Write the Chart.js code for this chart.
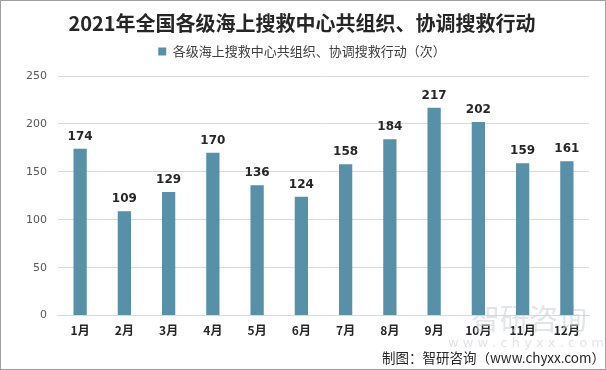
<!DOCTYPE html>
<html><head><meta charset="utf-8">
<script src="https://cdn.jsdelivr.net/npm/chart.js@4/dist/chart.umd.min.js"></script>
<style>
html,body{margin:0;padding:0;background:#fff;}
#wrap{position:absolute;left:0;top:0;width:604px;height:368px;border:1px solid #a0a0a0;}
</style></head>
<body>
<div id="wrap"><canvas id="c" width="604" height="368"></canvas></div>
<script>
const categories = ['1月','2月','3月','4月','5月','6月','7月','8月','9月','10月','11月','12月'];
const values = [174,109,129,170,136,124,158,184,217,202,159,161];
const yTicks = [0,50,100,150,200,250];
const seriesName = '各级海上搜救中心共组织、协调搜救行动（次）';
const titleText = '2021年全国各级海上搜救中心共组织、协调搜救行动';
const sourceText = '制图：智研咨询（www.chyxx.com）';
const CJK = '"Noto Sans CJK SC", sans-serif';

const extras = {
  id: 'extras',
  afterInit(chart) {
    const lg = chart.legend;
    if (lg) {
      const orig = lg.fit.bind(lg);
      lg.fit = function () { orig(); this.height += 8; };
    }
  },
  beforeDatasetsDraw(chart) {
    const ctx = chart.ctx;
    ctx.save();
    ctx.fillStyle = 'rgba(200,205,215,0.55)';
    ctx.font = '29px ' + CJK;
    ctx.textAlign = 'left';
    ctx.textBaseline = 'middle';
    ctx.fillText('智研咨询', 470, 318);
    ctx.font = '13px "DejaVu Sans", sans-serif';
    ctx.fillText('w w w . c h y x x . c o m', 447, 343);
    ctx.restore();
  },
  afterDatasetsDraw(chart) {
    const ctx = chart.ctx;
    const meta = chart.getDatasetMeta(0);
    ctx.save();
    ctx.fillStyle = '#262626';
    ctx.font = 'bold 12px "DejaVu Sans", sans-serif';
    ctx.textAlign = 'center';
    ctx.textBaseline = 'bottom';
    meta.data.forEach((bar, i) => {
      ctx.fillText(String(values[i]), bar.x, bar.y - 6);
    });
    ctx.font = '13.5px ' + CJK;
    ctx.fillStyle = '#262626';
    ctx.textAlign = 'right';
    ctx.textBaseline = 'middle';
    ctx.fillText(sourceText, 604, 357);
    ctx.restore();
  }
};

new Chart(document.getElementById('c'), {
  type: 'bar',
  data: {
    labels: categories,
    datasets: [{
      label: seriesName,
      data: values,
      backgroundColor: '#5890a8',
      barPercentage: 0.3,
      categoryPercentage: 1.0
    }]
  },
  options: {
    responsive: false,
    animation: false,
    layout: { padding: { left: 14, right: 16, top: 4, bottom: 23 } },
    plugins: {
      title: {
        display: true, text: titleText, color: '#262626',
        font: { family: CJK, size: 20, weight: 'bold' },
        padding: { top: 6, bottom: 2 }
      },
      legend: {
        display: true,
        labels: {
          color: '#404040', font: { family: CJK, size: 13 },
          boxWidth: 8, boxHeight: 8, padding: 8
        }
      },
      tooltip: { enabled: false }
    },
    scales: {
      x: {
        grid: { display: false, drawTicks: false },
        border: { display: true, color: '#d9d9d9' },
        ticks: { color: '#262626', font: { family: CJK, size: 12, weight: 'bold' }, padding: 8 }
      },
      y: {
        min: 0, max: 250,
        afterBuildTicks(axis) { axis.ticks = yTicks.map(v => ({ value: v })); },
        grid: { color: '#d9d9d9', drawTicks: false },
        border: { display: false },
        ticks: { color: '#595959', font: { family: '"DejaVu Sans", sans-serif', size: 11 }, padding: 11 }
      }
    }
  },
  plugins: [extras]
});
</script>
</body></html>
